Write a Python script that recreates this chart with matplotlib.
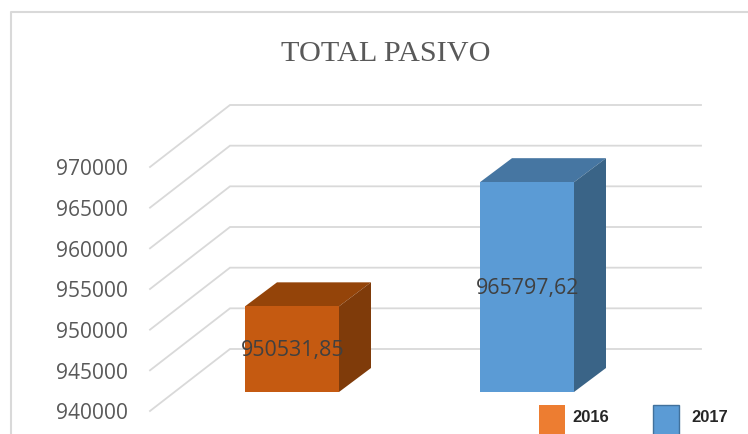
import matplotlib
matplotlib.use("Agg")
import matplotlib.pyplot as plt
from matplotlib.patches import Polygon, Rectangle

title = "TOTAL PASIVO"
years = ["2016", "2017"]
values = [950531.85, 965797.62]
value_labels = ["950531,85", "965797,62"]
ticks = [940000, 945000, 950000, 955000, 960000, 965000, 970000]
tick_labels = [str(t) for t in ticks]
front_colors = ["#C55A11", "#5B9BD5"]
top_colors = ["#944409", "#4676A2"]
side_colors = ["#7F3B0A", "#3A6487"]
legend_colors = ["#ED7D31", "#5B9BD5"]

W, H = 748, 435
PX_PER_UNIT = 244 / 30000
Y0_PIX = 412
fig = plt.figure(figsize=(W / 100, H / 100), dpi=100)
ax = fig.add_axes([0, 0, 1, 1])
ax.set_xlim(0, W)
base = ticks[0]
ax.set_ylim(base - (H - Y0_PIX) / PX_PER_UNIT, base + Y0_PIX / PX_PER_UNIT)
ax.axis("off")
fig.patch.set_facecolor("white")
GREY = "#D9D9D9"
TXT = "#595959"


def dy(px):
    return px / PX_PER_UNIT


# frame
ax.plot([11.5, 11.5, 748], [base - dy(24), base + dy(398.5), base + dy(398.5)], color=GREY, lw=1.5,
        solid_capstyle="butt")

# gridlines + floor/wall
for t, lab in zip(ticks, tick_labels):
    ax.plot([150, 230, 701], [t, t + dy(62), t + dy(62)], color=GREY, lw=1.3, solid_joinstyle="miter")
    ax.text(128.5, t + dy(-2), lab, ha="right", va="center", fontsize=15.1, color=TXT, family="Open Sans")

# bars
centers = [292, 527]
half = 47
BDX, BDY = 32, 24
FDY = 19
for c, v, lab, fc, tc, sc in zip(centers, values, value_labels, front_colors, top_colors, side_colors):
    l, r = c - half, c + half
    b = base + dy(FDY)
    tp = v + dy(FDY)
    ax.add_patch(Polygon([(l, tp), (l + BDX, tp + dy(BDY)), (r + BDX, tp + dy(BDY)), (r, tp)], fc=tc, ec="none", zorder=3))
    ax.add_patch(Polygon([(r, b), (r + BDX, b + dy(BDY)), (r + BDX, tp + dy(BDY)), (r, tp)], fc=sc, ec="none", zorder=3))
    ax.add_patch(Polygon([(l, b), (r, b), (r, tp), (l, tp)], fc=fc, ec="none", zorder=4))
    ax.text(c + 1, (b + tp) / 2, lab, ha="center", va="center", fontsize=15.4, color="#404040",
            family="Open Sans", zorder=5)

ax.text(386, base + dy(412 - 54), title, ha="center", va="center", fontsize=21.8, color=TXT,
        family="Liberation Serif")

# legend
for x, xt, y, col in zip([539, 653], [572, 691], years, legend_colors):
    ax.add_patch(Rectangle((x, base - dy(26)), 26, dy(32), fc=col, ec="#41719C" if y == "2017" else "none", lw=1, zorder=3))
    ax.text(xt, base - dy(6), y, ha="left", va="center", fontsize=11.9, color="#262626",
            family="Liberation Sans", weight="bold")

fig.savefig("out.png", dpi=100)
